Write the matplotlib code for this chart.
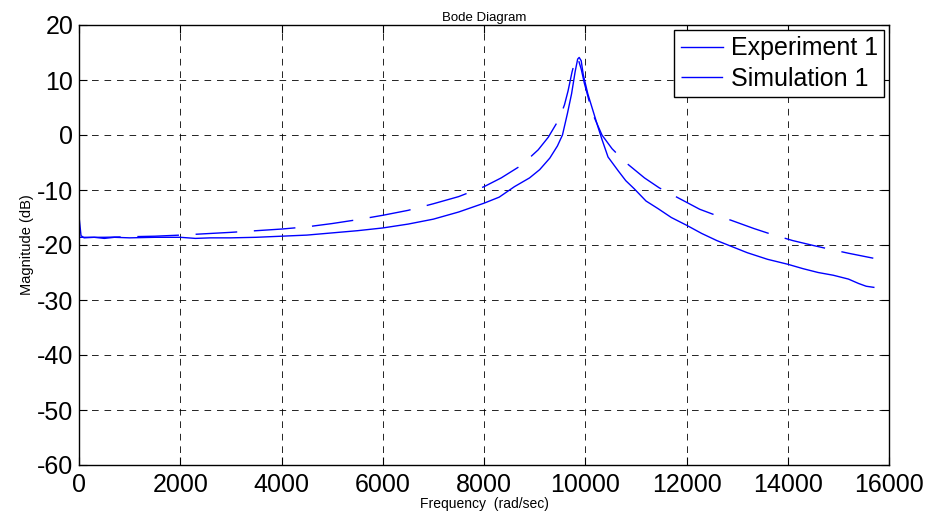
#!/usr/bin/env python
#
# Bode magnitude plot: measured vs simulated response around the 9.8 krad/s resonance.

import matplotlib
matplotlib.use("Agg")
import matplotlib.pyplot as plt

plt.rcParams['font.family'] = ['Liberation Sans', 'DejaVu Sans']
plt.rcParams['axes.unicode_minus'] = False

# Experiment 1 (measured), frequency in rad/sec, magnitude in dB
exp_freq = [0, 40, 100, 300, 500, 700, 1000, 1500, 2000, 2300, 2600, 3000,
            3500, 4000, 4500, 5000, 5500, 6000, 6500, 7000, 7500, 8000,
            8300, 8600, 8900, 9100, 9300, 9450, 9550, 9650, 9730, 9800,
            9850, 9880, 9920, 9960, 10050, 10150, 10250, 10330, 10450,
            10650, 10800, 10970, 11200, 11440, 11700, 12000, 12300, 12600,
            12900, 13200, 13600, 14000, 14300, 14600, 14900, 15200, 15400,
            15550, 15700]
exp_mag = [-14.8, -18.3, -18.7, -18.6, -18.8, -18.6, -18.7, -18.6, -18.6,
           -18.8, -18.7, -18.7, -18.6, -18.4, -18.2, -17.8, -17.4, -16.9,
           -16.2, -15.3, -14.0, -12.4, -11.3, -9.4, -7.8, -6.3, -4.2, -2.0,
           0.0, 4.0, 7.5, 11.5, 13.8, 14.1, 13.5, 11.0, 7.5, 4.5, 1.5, -0.8,
           -4.0, -6.5, -8.3, -9.8, -12.0, -13.4, -15.0, -16.4, -17.9, -19.2,
           -20.3, -21.4, -22.6, -23.5, -24.3, -25.0, -25.5, -26.2, -27.0,
           -27.5, -27.7]

# Simulation 1 (model)
sim_freq = [0, 500, 1000, 1500, 2000, 2500, 3000, 3500, 4000, 4500, 5000,
            5500, 6000, 6500, 7000, 7500, 8000, 8340, 8740, 9070, 9270, 9490,
            9590, 9660, 9740, 9820, 9860, 9920, 9980, 10140, 10330, 10530,
            10800, 11170, 11460, 11850, 12260, 12550, 12880, 13330, 13660,
            14100, 14510, 14800, 15200, 15690]
sim_mag = [-18.6, -18.6, -18.5, -18.4, -18.2, -17.95, -17.7, -17.4, -17.1,
           -16.7, -16.1, -15.4, -14.6, -13.7, -12.5, -11.2, -9.4, -7.8, -5.5,
           -2.7, -0.4, 3.0, 5.5, 8.0, 11.5, 14.2, 13.8, 12.0, 9.5, 4.0, 0.0,
           -2.5, -5.0, -7.8, -9.6, -11.5, -13.5, -14.5, -15.5, -17.0, -18.0,
           -19.2, -20.1, -20.7, -21.5, -22.4]

fig = plt.figure(figsize=(9.32, 5.19), dpi=100)
ax = fig.add_axes([79 / 932, 54 / 519, 810 / 932, 440 / 519])

ax.plot(exp_freq, exp_mag, color='#0000ff', lw=1, label='Experiment 1')
ax.plot(sim_freq, sim_mag, color='#0000ff', lw=1, dashes=(30, 12),
        label='Simulation 1')

ax.set_xlim(0, 16000)
ax.set_ylim(-60, 20)
ax.set_xticks(range(0, 16001, 2000))
ax.set_yticks(range(-60, 21, 10))
ax.tick_params(direction='in', length=6, top=True, right=True,
               labelsize=18, pad=4)
ax.tick_params(axis='x', pad=6)
ax.grid(True, color='k', linestyle=(0, (8, 7)), linewidth=0.6)
for s in ax.spines.values():
    s.set_linewidth(1)
    s.set_color('k')

ax.set_title('Bode Diagram', fontsize=9.5, pad=3)
ax.set_xlabel('Frequency  (rad/sec)', fontsize=10, labelpad=0)
ax.set_ylabel('Magnitude (dB)', fontsize=10.5, labelpad=2)

leg = ax.legend(loc='upper right', fontsize=18, fancybox=False,
                edgecolor='k', framealpha=1, borderaxespad=0.2,
                borderpad=0.25, labelspacing=0.25, handlelength=1.7,
                handletextpad=0.3)
leg.get_frame().set_linewidth(1)

fig.savefig('out.png', dpi=100)
